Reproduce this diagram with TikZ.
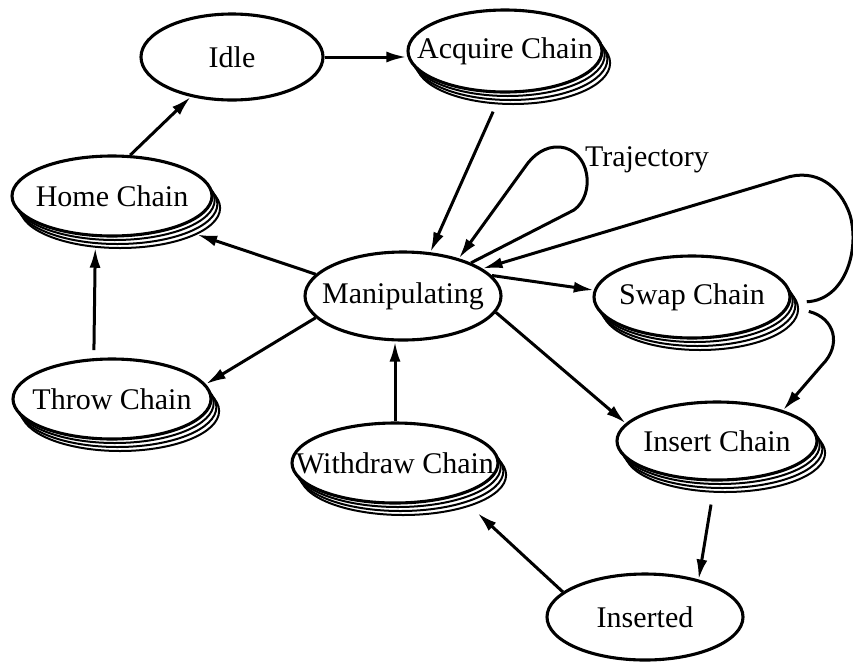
\documentclass[tikz,border=0pt]{standalone}
\usepackage{fontspec}
\setmainfont{Liberation Serif}
\usetikzlibrary{shapes.geometric,arrows.meta}
\tikzset{
 st/.style={ellipse, draw, fill=white, line width=3.1pt, inner sep=0pt, font=\fontsize{30}{35}\selectfont},
 stk/.style={ellipse, draw, fill=white, line width=2pt, inner sep=0pt},
 arr/.style={line width=3pt, -{Latex[length=20pt,width=11pt]}},
 lbl/.style={font=\fontsize{30}{35}\selectfont},
}
\newcommand\stacked[6]{%
 \foreach \k in {3,2,1}{\node[stk, minimum width={2pt*#4}, minimum height={2pt*#5}] (#1\k) at ({#2+2.7*\k},{#3+4*\k}) {};}
 \node[st, minimum width={2pt*#4}, minimum height={2pt*#5}] (#1) at (#2,#3) {\makebox[0pt]{#6}};}
\newcommand\single[6]{%
 \node[st, minimum width={2pt*#4}, minimum height={2pt*#5}] (#1) at (#2,#3) {\makebox[0pt]{#6}};}
\begin{document}
\begin{tikzpicture}[x=1pt,y=-1pt]
\useasboundingbox (0,0) rectangle (853,662);
\single{idle}{232}{57}{91}{43}{Idle}
\stacked{acq}{505}{51}{97}{41}{Acquire Chain}
\stacked{home}{112}{196}{100}{40}{Home Chain}
\single{manip}{403}{296}{98}{44}{Manipulating}
\stacked{swap}{692}{297}{98}{41}{Swap Chain}
\stacked{throw}{112}{399}{99}{40}{Throw Chain}
\stacked{withdraw}{395}{463}{103}{40}{Withdraw Chain}
\stacked{insert}{717}{441}{100}{39}{Insert Chain}
\single{inserted}{645}{617}{98}{43}{Inserted}
\node[lbl] (traj) at (647,160) {Trajectory};

\draw[arr] (home.66) -- (idle.224);
\draw[arr] (idle.east) -- (idle.east -| acq.west);
\draw[arr, shorten <=8pt] (acq3.248) -- (manip.58);
\draw[arr] (manip.26) -- (574,210) .. controls (596,194) and (590,150) .. (560,147)
  .. controls (545,146) and (533,155) .. (525,167) -- (manip.34);
\draw[arr, shorten <=9pt] (swap3.4) .. controls (845,300) and (860,250) .. (850,215)
  .. controls (840,185) and (815,168) .. (785,178) -- (manip.19);
\draw[arr] (manip.13) -- (swap.176);
\draw[arr, shorten <=10pt] (swap3.0) .. controls (835,318) and (842,345) .. (822,365) -- (insert.25);
\draw[arr] (manip.-10) -- (insert.169);
\draw[arr] (manip.166) -- (home3.-19);
\draw[arr] (manip.194) -- (throw.9);
\draw[arr, shorten <=8pt] (throw.114) -- (home3.238);
\draw[arr] (withdraw.north) -- (withdraw.north |- manip.south);
\draw[arr, shorten <=12pt] (insert3.253) -- (inserted.35);
\draw[arr, shorten >=10pt] (inserted.163) -- (withdraw3.-25);
\end{tikzpicture}
\end{document}
